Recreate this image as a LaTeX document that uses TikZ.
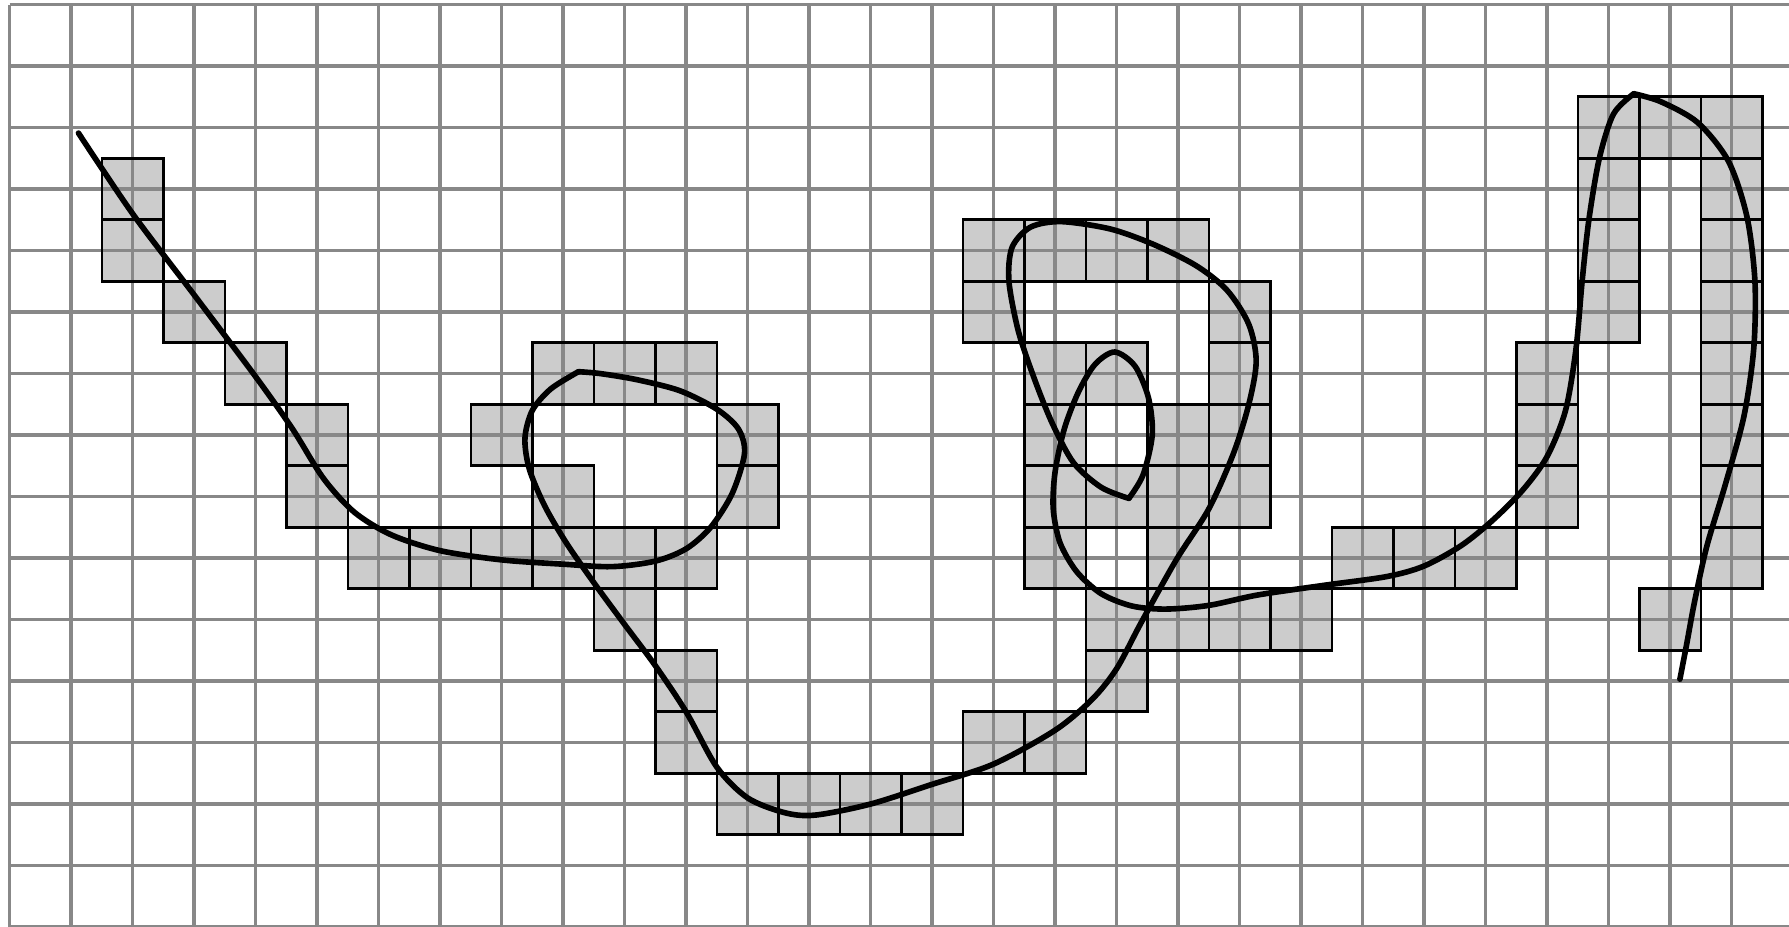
\documentclass[tikz,border=0pt]{standalone}
\definecolor{gridgray}{HTML}{888888}
\definecolor{cellgray}{HTML}{CCCCCC}
\tikzset{
  gridline/.style={draw=gridgray, line width=1.7pt},
  cellfill/.style={fill=cellgray},
  cellborder/.style={draw=black, line width=1.2pt},
  trace/.style={draw=black, line width=2.6pt, line cap=round, line join=round},
}
\begin{document}
\begin{tikzpicture}
\useasboundingbox (-0.156,0.009) rectangle (28.934,15.074);
\clip (-0.156,0.009) rectangle (28.934,15.074);
\def\cells{25/1,26/1,27/1,
1/2,25/2,27/2,
1/3,15/3,16/3,17/3,18/3,25/3,27/3,
2/4,15/4,19/4,25/4,27/4,
3/5,8/5,9/5,10/5,16/5,17/5,19/5,24/5,27/5,
4/6,7/6,11/6,16/6,18/6,19/6,24/6,27/6,
4/7,8/7,11/7,16/7,17/7,18/7,19/7,24/7,27/7,
5/8,6/8,7/8,8/8,9/8,10/8,16/8,18/8,21/8,22/8,23/8,27/8,
9/9,17/9,18/9,19/9,20/9,26/9,
10/10,17/10,
10/11,15/11,16/11,
11/12,12/12,13/12,14/12}
% shaded cells
\foreach \a/\b in \cells { \fill[cellfill] ({\a+0.5},{13.5-\b}) rectangle ++(1,1); }
% grey grid
\foreach \x in {0,...,28} \draw[gridline] (\x,-0.5) -- (\x,15);
\foreach \y in {0,...,15} \draw[gridline] (0,\y) -- (29.5,\y);
% cell borders
\foreach \a/\b in \cells { \draw[cellborder] ({\a+0.5},{13.5-\b}) rectangle ++(1,1); }
% curve
\draw[trace] plot[smooth] coordinates {
(1.12,12.91) (2.0,11.6) (3.0,10.28) (4.0,8.95) (4.6,8.1) (5.1,7.3) (5.6,6.75)
(6.2,6.38) (7.0,6.12) (8.0,5.97) (9.0,5.9) (9.8,5.86) (10.5,5.95) (11.0,6.15)
(11.4,6.5) (11.75,7.05) (11.95,7.7) (11.85,8.1) (11.5,8.42) (10.9,8.72)
(10.2,8.9) (9.6,9.0) (9.25,9.03)};
\draw[trace] plot[smooth] coordinates {
(9.25,9.03) (8.8,8.75) (8.5,8.4) (8.38,7.95) (8.45,7.45) (8.7,6.85) (9.05,6.25)
(9.5,5.6) (10.0,4.92) (10.5,4.25) (11.0,3.5) (11.5,2.6) (12.0,2.1) (12.6,1.86)
(13.1,1.82) (14.0,2.0) (15.0,2.32) (16.0,2.65) (17.0,3.2) (17.6,3.7) (18.0,4.2)
(18.4,4.95) (18.97,5.97) (19.5,6.8) (19.9,7.7) (20.15,8.5) (20.27,9.2) (20.15,9.8)
(19.8,10.35) (19.3,10.75) (18.6,11.1) (17.9,11.35) (17.1,11.47) (16.6,11.38)
(16.3,11.05) (16.25,10.5) (16.4,9.7) (16.65,8.95) (16.95,8.2) (17.3,7.55)
(17.75,7.15) (18.2,6.97)};
\draw[trace] plot[smooth] coordinates {
(18.2,6.97) (18.43,7.35) (18.58,8.0) (18.52,8.6) (18.3,9.12) (17.97,9.35)
(17.65,9.15) (17.38,8.7) (17.15,8.1) (17.0,7.4) (16.97,6.8) (17.08,6.25)
(17.35,5.78) (17.75,5.42) (18.25,5.22) (18.8,5.17) (19.5,5.23) (20.3,5.4)
(21.4,5.56) (22.4,5.7) (23.0,5.87) (23.6,6.2) (24.1,6.6) (24.6,7.1) (25.0,7.65)
(25.3,8.4) (25.47,9.4) (25.57,10.5) (25.68,11.5) (25.85,12.5) (26.08,13.22)
(26.41,13.55)};
\draw[trace] plot[smooth] coordinates {
(26.41,13.55) (26.85,13.42) (27.45,13.08) (27.95,12.45) (28.25,11.55) (28.38,10.5)
(28.36,9.4) (28.2,8.3) (27.9,7.2) (27.6,6.2) (27.4,5.3) (27.27,4.6) (27.16,4.03)};
\end{tikzpicture}
\end{document}
